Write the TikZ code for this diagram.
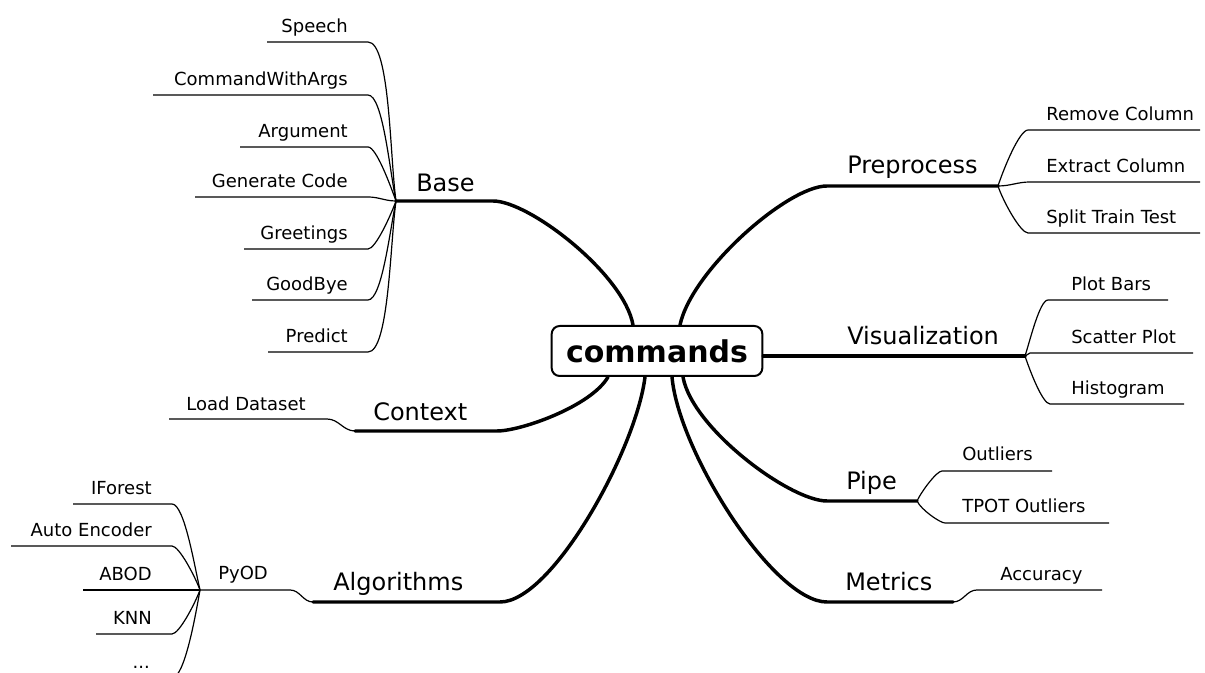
\documentclass[tikz,border=0pt]{standalone}
\usepackage{fontspec}
\setmainfont{DejaVu Sans}

\tikzstyle{root} = [draw, line width=1.5pt, rounded corners=6pt, font=\bfseries\fontsize{22.5}{26}\selectfont, minimum width=158pt, minimum height=37.5pt, inner sep=0pt]
\tikzstyle{topic} = [font=\fontsize{18}{21}\selectfont, inner sep=0pt]
\tikzstyle{leaf} = [font=\fontsize{13.5}{16}\selectfont, inner sep=0pt]
\tikzstyle{branch} = [line width=2.6pt, line cap=round]
\tikzstyle{twig} = [line width=0.9pt]
\tikzstyle{sweep} = [out looseness=0.7, in looseness=0.5]
\tikzstyle{fan} = [out looseness=0.7, in looseness=0.35]

\begin{document}
\begin{tikzpicture}[x=0.75pt, y=0.75pt]
\useasboundingbox (0,0) rectangle (1205,673);

\node[root] (cmd) at (657,322) {commands};

\coordinate (base-in) at (493,472);
\coordinate (base-out) at (396,472);
\coordinate (ctx-in) at (497,242);
\coordinate (ctx-out) at (355,242);
\coordinate (alg-in) at (500,71);
\coordinate (alg-out) at (313,71);
\coordinate (prep-in) at (827,487);
\coordinate (prep-out) at (998,487);
\coordinate (vis-out) at (1025,317);
\coordinate (pipe-in) at (827,172);
\coordinate (pipe-out) at (917,172);
\coordinate (met-in) at (827,71);
\coordinate (met-out) at (953,71);

\node[topic, anchor=base west] (base) at (416,481) {Base};
\node[topic, anchor=base west] (ctx) at (373,252) {Context};
\node[topic, anchor=base west] (alg) at (333,82) {Algorithms};
\node[topic, anchor=base west] (prep) at (847,499) {Preprocess};
\node[topic, anchor=base west] (vis) at (847,328) {Visualization};
\node[topic, anchor=base west] (pipe) at (846,183) {Pipe};
\node[topic, anchor=base west] (met) at (845,82) {Metrics};

\draw[branch] ([xshift=-18pt]cmd.north) to[out=100, in=0, sweep] (base-in) -- (base-out);
\draw[branch] ([xshift=-36.75pt]cmd.south) to[out=-120, in=0, sweep] (ctx-in) -- (ctx-out);
\draw[branch] ([xshift=-9pt]cmd.south) to[out=-97, in=0, sweep] (alg-in) -- (alg-out);
\draw[branch] ([xshift=17.25pt]cmd.north) to[out=78, in=180, sweep] (prep-in) -- (prep-out);
\draw[branch] ([yshift=-3.75pt]cmd.east) -- (vis-out);
\draw[branch] ([xshift=19.5pt]cmd.south) to[out=-80, in=180, sweep] (pipe-in) -- (pipe-out);
\draw[branch] ([xshift=11.25pt]cmd.south) to[out=-85, in=180, sweep] (met-in) -- (met-out);

\coordinate (sp-e) at (368,631);
\coordinate (sp-w) at (267,631);
\coordinate (cwa-e) at (368,578);
\coordinate (cwa-w) at (153,578);
\coordinate (arg-e) at (368,526);
\coordinate (arg-w) at (240,526);
\coordinate (gen-e) at (368,476);
\coordinate (gen-w) at (195,476);
\coordinate (gre-e) at (368,424);
\coordinate (gre-w) at (244,424);
\coordinate (gdb-e) at (368,373);
\coordinate (gdb-w) at (252,373);
\coordinate (pred-e) at (368,321);
\coordinate (pred-w) at (268,321);

\node[leaf, anchor=base east] (sp) at (348,640) {Speech};
\node[leaf, anchor=base east] (cwa) at (348,587) {CommandWithArgs};
\node[leaf, anchor=base east] (arg) at (348,535) {Argument};
\node[leaf, anchor=base east] (gen) at (348,485) {Generate Code};
\node[leaf, anchor=base east] (gre) at (348,433) {Greetings};
\node[leaf, anchor=base east] (gdb) at (348,382) {GoodBye};
\node[leaf, anchor=base east] (pred) at (348,330) {Predict};

\draw[twig] (base-out) to[out=98, in=0, fan] (sp-e) -- (sp-w);
\draw[twig] (base-out) to[out=102, in=0, fan] (cwa-e) -- (cwa-w);
\draw[twig] (base-out) to[out=110, in=0, fan] (arg-e) -- (arg-w);
\draw[twig] (base-out) to[out=180, in=0] (gen-e) -- (gen-w);
\draw[twig] (base-out) to[out=-110, in=0, fan] (gre-e) -- (gre-w);
\draw[twig] (base-out) to[out=-102, in=0, fan] (gdb-e) -- (gdb-w);
\draw[twig] (base-out) to[out=-98, in=0, fan] (pred-e) -- (pred-w);

\coordinate (ld-e) at (327,254);
\coordinate (ld-w) at (169,254);
\node[leaf, anchor=base east] (ld) at (306,262) {Load Dataset};
\draw[twig] (ctx-out) to[out=180, in=0] (ld-e) -- (ld-w);

\coordinate (pyod-e) at (290,83);
\coordinate (pyod-w) at (200,83);
\node[leaf, anchor=base west] (pyod) at (218,93) {PyOD};
\draw[twig] (alg-out) to[out=180, in=0] (pyod-e) -- (pyod-w);

\coordinate (if-e) at (172,169);
\coordinate (if-w) at (73,169);
\coordinate (ae-e) at (172,127);
\coordinate (ae-w) at (11,127);
\coordinate (abod-w) at (83,83);
\coordinate (knn-e) at (172,39);
\coordinate (knn-w) at (96,39);
\coordinate (etc-e) at (172,-5);
\coordinate (etc-w) at (115,-5);

\node[leaf, anchor=base east] (if) at (152,178) {IForest};
\node[leaf, anchor=base east] (ae) at (152,136) {Auto Encoder};
\node[leaf, anchor=base east] (abod) at (152,92) {ABOD};
\node[leaf, anchor=base east] (knn) at (152,48) {KNN};
\node[leaf, anchor=base east] (etc) at (150,4) {...};

\draw[twig] (pyod-w) to[out=103, in=0, fan] (if-e) -- (if-w);
\draw[twig] (pyod-w) to[out=110, in=0, fan] (ae-e) -- (ae-w);
\draw[twig] (pyod-w) -- (abod-w);
\draw[twig] (pyod-w) to[out=-110, in=0, fan] (knn-e) -- (knn-w);
\draw[twig] (pyod-w) to[out=-100, in=0, fan] (etc-e) -- (etc-w);

\coordinate (rc-w) at (1028,543);
\coordinate (rc-e) at (1200,543);
\coordinate (ec-w) at (1030,491);
\coordinate (ec-e) at (1200,491);
\coordinate (st-w) at (1028,440);
\coordinate (st-e) at (1200,440);

\node[leaf, anchor=base west] (rc) at (1046,552) {Remove Column};
\node[leaf, anchor=base west] (ec) at (1046,500) {Extract Column};
\node[leaf, anchor=base west] (st) at (1046,449) {Split Train Test};

\draw[twig] (prep-out) to[out=72, in=180, fan] (rc-w) -- (rc-e);
\draw[twig] (prep-out) to[out=0, in=180] (ec-w) -- (ec-e);
\draw[twig] (prep-out) to[out=-72, in=180, fan] (st-w) -- (st-e);

\coordinate (pb-w) at (1048,373);
\coordinate (pb-e) at (1168,373);
\coordinate (sc-w) at (1030,320);
\coordinate (sc-e) at (1193,320);
\coordinate (hg-w) at (1050,269);
\coordinate (hg-e) at (1184,269);

\node[leaf, anchor=base west] (pb) at (1071,382) {Plot Bars};
\node[leaf, anchor=base west] (sc) at (1071,329) {Scatter Plot};
\node[leaf, anchor=base west] (hg) at (1071,278) {Histogram};

\draw[twig] (vis-out) to[out=72, in=180, fan] (pb-w) -- (pb-e);
\draw[twig] (vis-out) to[out=0, in=180] (sc-w) -- (sc-e);
\draw[twig] (vis-out) to[out=-72, in=180, fan] (hg-w) -- (hg-e);

\coordinate (out-w) at (942,202);
\coordinate (out-e) at (1052,202);
\coordinate (tpot-w) at (945,150);
\coordinate (tpot-e) at (1109,150);

\node[leaf, anchor=base west] (outl) at (962,212) {Outliers};
\node[leaf, anchor=base west] (tpot) at (962,160) {TPOT Outliers};

\draw[twig] (pipe-out) to[out=65, in=180, fan] (out-w) -- (out-e);
\draw[twig] (pipe-out) to[out=-65, in=180, fan] (tpot-w) -- (tpot-e);

\coordinate (acc-w) at (977,83);
\coordinate (acc-e) at (1102,83);
\node[leaf, anchor=base west] (acc) at (1000,92) {Accuracy};
\draw[twig] (met-out) to[out=0, in=180] (acc-w) -- (acc-e);
\end{tikzpicture}
\end{document}
